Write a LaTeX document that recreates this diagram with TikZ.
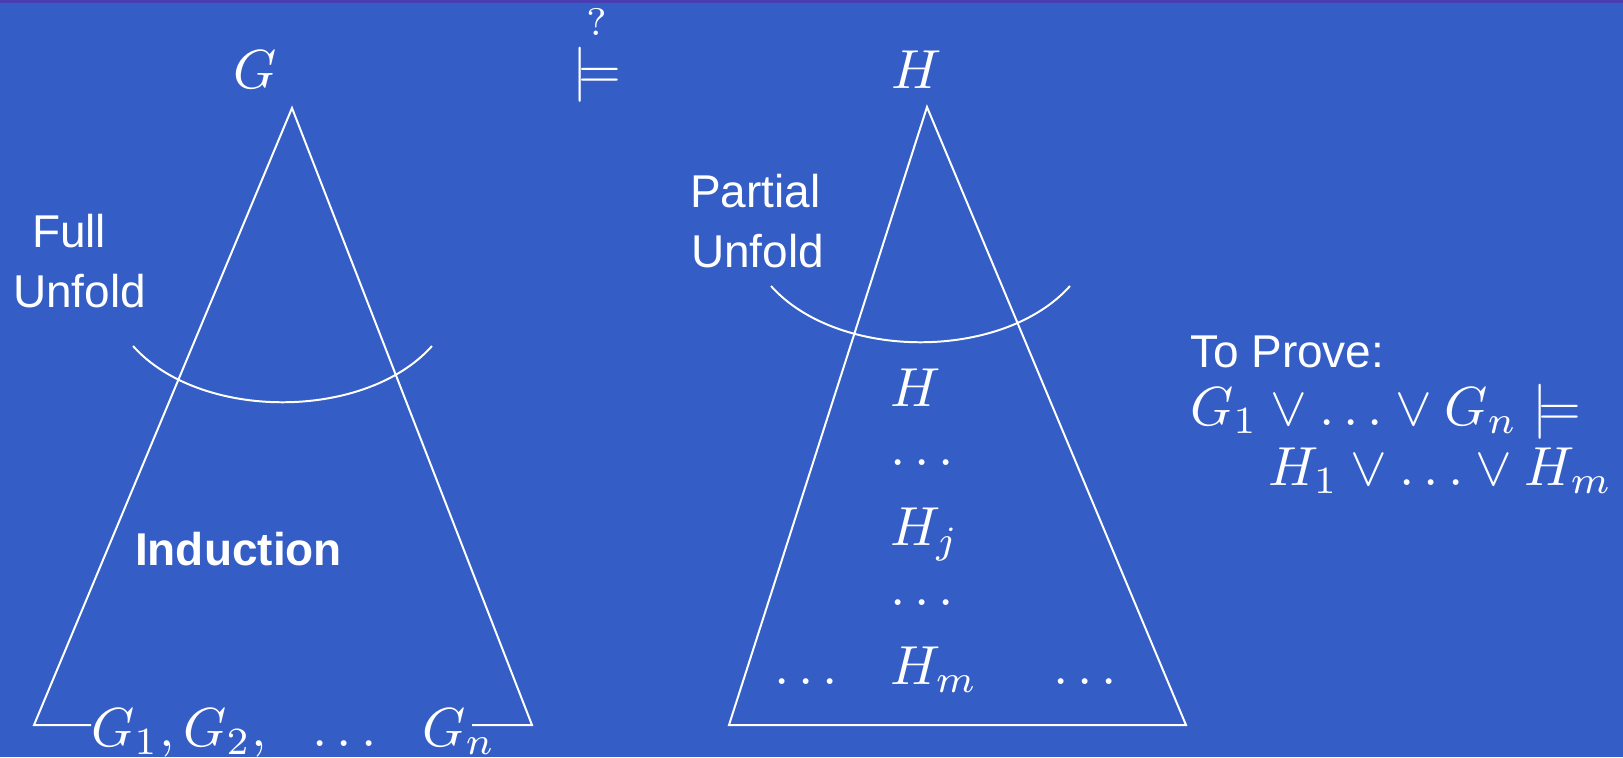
\documentclass[tikz,border=0pt]{standalone}
\usepackage{fontspec}
\setsansfont{Liberation Sans}
\usetikzlibrary{positioning}

\definecolor{slidebg}{RGB}{52,94,198}
\definecolor{slidebar}{RGB}{72,62,178}

\begin{document}
\begin{tikzpicture}[x=0.181818pt, y=-0.181818pt]
      \tikzset{
        edge/.style={draw=white, line width=0.36pt},
        mlabel/.style={text=white, inner sep=0pt, anchor=base west},
        tlabel/.style={
          text=white, inner sep=0pt, anchor=base west,
          font=\fontsize{8.36}{10.9}\selectfont\sffamily
        },
        blabel/.style={tlabel, font=\fontsize{8.36}{10.9}\selectfont\sffamily\bfseries}
      }
      \useasboundingbox (0,0) rectangle (1623,757);
      \fill[slidebg] (0,0) rectangle (1623,757);
      \fill[slidebar] (0,0) rectangle (1623,2.5);

      % left tree
      \coordinate (gtop) at (292,108);
      \coordinate (gbl) at (34,725);
      \coordinate (gbr) at (532,725);
      \coordinate (gcutl) at (91,725);
      \coordinate (gcutr) at (472,725);
      \draw[edge] (gcutl) -- (gbl) -- (gtop) -- (gbr) -- (gcutr);
      \draw[edge] (133,346) .. controls (200,421) and (365,421) .. (432,346);

      % right tree
      \coordinate (htop) at (927,107);
      \coordinate (hbl) at (729,725);
      \coordinate (hbr) at (1186,725);
      \draw[edge] (htop) -- (hbl) -- (hbr) -- cycle;
      \draw[edge] (771,286) .. controls (838,361) and (1003,361) .. (1070,286);

      % top line
      \node[mlabel] (gname) at (232,88) {$G$};
      \node[mlabel] (entails) at (571,88) {$\stackrel{?}{\models}$};
      \node[mlabel] (hname) at (890,88) {$H$};

      % left labels
      \node[tlabel] (fulltxt) at (31,247) {Full};
      \node[tlabel] (fullunf) at (12,307) {Unfold};
      \node[blabel] (induct) at (134,565) {Induction};
      \node[mlabel] (gleaves) at (90,746) {$G_1, G_2,\ \ \ldots\ \ G_n$};

      % right labels
      \node[tlabel] (parttxt) at (689,207) {Partial};
      \node[tlabel] (partunf) at (690,267) {Unfold};
      \node[mlabel] (hroot) at (889,406) {$H$};
      \node[mlabel] (hdotsa) at (889,465) {$\ldots$};
      \node[mlabel] (hj) at (889,545) {$H_j$};
      \node[mlabel] (hdotsb) at (889,605) {$\ldots$};
      \node[mlabel] (hm) at (889,684) {$H_m$};
      \node[mlabel] (hdotsl) at (773,684) {$\ldots$};
      \node[mlabel] (hdotsr) at (1052,684) {$\ldots$};

      % goal
      \node[tlabel] (provetxt) at (1189,367) {To Prove:};
      \node[mlabel] (provelhs) at (1189,425) {$G_1 \vee \ldots \vee G_n \models$};
      \node[mlabel] (proverhs) at (1267,485) {$H_1 \vee \ldots \vee H_m$};
    \end{tikzpicture}
\end{document}
